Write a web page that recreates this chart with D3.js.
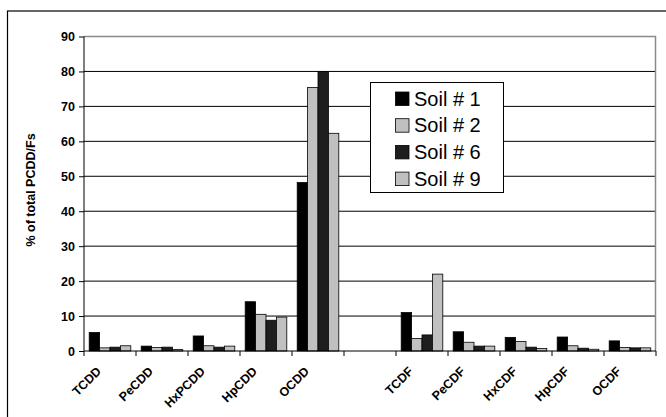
<!DOCTYPE html>
<html>
<head>
<meta charset="utf-8">
<script src="https://cdn.jsdelivr.net/npm/d3@7"></script>
<style>
  body { margin: 0; background: #fff; }
  svg { display: block; font-family: "Liberation Sans", Arial, sans-serif; }
</style>
</head>
<body>
<div id="chart"></div>
<script>
// data
var categories = ["TCDD", "PeCDD", "HxPCDD", "HpCDD", "OCDD", "", "TCDF", "PeCDF", "HxCDF", "HpCDF", "OCDF"];
var seriesNames = ["Soil # 1", "Soil # 2", "Soil # 6", "Soil # 9"];
var soil1 = [5.3, 1.4, 4.3, 14.1, 48.2, null, 11.0, 5.5, 3.9, 4.0, 2.9];
var soil2 = [0.9, 1.0, 1.5, 10.5, 75.4, null, 3.6, 2.5, 2.7, 1.5, 1.0];
var soil6 = [1.1, 1.1, 1.1, 8.8, 80.0, null, 4.6, 1.4, 1.1, 0.8, 0.9];
var soil9 = [1.5, 0.4, 1.4, 9.7, 62.3, null, 22.0, 1.4, 0.7, 0.5, 0.9];
var yTicks = [0, 10, 20, 30, 40, 50, 60, 70, 80, 90];

var seriesValues = [soil1, soil2, soil6, soil9];
var colors = ["#000000", "#c0c0c0", "#1e1e1e", "#c0c0c0"];

// #########################################################
// canvas
// #########################################################
var W = 666, H = 417;

var svg = d3.select("#chart")
  .append("svg")
    .attr("width", W)
    .attr("height", H);

// outer frame (runs off the right and bottom edges)
svg.append("rect")
    .attr("x", 7.5).attr("y", 11)
    .attr("width", W + 10).attr("height", H + 10)
    .attr("fill", "none").attr("stroke", "#000").attr("stroke-width", 1.2);

// category keys must be unique for the band scale
var keys = categories.map((c, i) => i);

var x = d3.scaleBand()
    .domain(keys)
    .range([84, 656])
    .padding(0);

var xSub = d3.scaleBand()
    .domain(d3.range(seriesNames.length))
    .range([0, x.bandwidth()])
    .paddingInner(0)
    .paddingOuter(0.5);

var y = d3.scaleLinear()
    .domain([0, 90])
    .range([351, 36.5]);

// gridlines
svg.append("g")
  .selectAll("line")
  .data(yTicks.filter(d => d > 0 && d < 90))
  .enter().append("line")
    .attr("x1", 84).attr("x2", 656)
    .attr("y1", d => y(d)).attr("y2", d => y(d))
    .attr("stroke", "#000").attr("stroke-width", 1);

// plot area border, top and right (gray)
svg.append("path")
    .attr("d", "M84," + y(90) + "H655.5V" + y(0))
    .attr("fill", "none").attr("stroke", "#8a8a8a").attr("stroke-width", 1.5);

// bars
var groups = svg.append("g")
  .selectAll("g")
  .data(keys)
  .enter().append("g")
    .attr("transform", d => "translate(" + x(d) + ",0)");

groups.selectAll("rect")
  .data(k => seriesValues.map((s, i) => ({i: i, v: s[k]})).filter(d => d.v != null))
  .enter().append("rect")
    .attr("x", d => xSub(d.i))
    .attr("width", xSub.bandwidth())
    .attr("y", d => y(d.v))
    .attr("height", d => y(0) - y(d.v))
    .attr("fill", d => colors[d.i])
    .attr("stroke", "#000")
    .attr("stroke-width", 0.8);

// y axis
var yAxis = d3.axisLeft(y).tickValues(yTicks).tickSize(5).tickPadding(4);
var gy = svg.append("g")
    .attr("transform", "translate(84,0)")
    .call(yAxis);
gy.select(".domain").attr("stroke", "#000").attr("d", "M0," + y(90) + "V" + y(0));
gy.selectAll(".tick line").attr("stroke", "#000");
gy.selectAll("text")
    .attr("font-size", 12.5).attr("font-weight", "bold")
    .attr("font-family", "Liberation Sans, Arial, sans-serif")
    .attr("fill", "#000");

// x axis: ticks on the category boundaries
var boundaries = keys.map(k => x(k)).concat([656]);
svg.append("line")
    .attr("x1", 84).attr("x2", 656)
    .attr("y1", y(0)).attr("y2", y(0))
    .attr("stroke", "#000").attr("stroke-width", 1.2);
svg.append("g")
  .selectAll("line")
  .data(boundaries)
  .enter().append("line")
    .attr("x1", d => d).attr("x2", d => d)
    .attr("y1", y(0)).attr("y2", y(0) + 5)
    .attr("stroke", "#000");

// category labels, rotated 45 degrees
var labels = svg.append("g")
  .selectAll("g")
  .data(keys.filter(k => categories[k] !== ""))
  .enter().append("g")
    .attr("transform", k => "translate(" + (x(k) + x.bandwidth() / 2 - 8) + "," + (y(0) + 21) + ")");
labels.append("text")
    .attr("transform", "rotate(-45)")
    .attr("text-anchor", "end")
    .attr("font-size", 12.5)
    .attr("font-weight", "bold")
    .text(k => categories[k]);

// y title
svg.append("text")
    .attr("transform", "translate(35,190) rotate(-90)")
    .attr("text-anchor", "middle")
    .attr("font-size", 12.5)
    .attr("font-weight", "bold")
    .text("% of total PCDD/Fs");

// legend
var legend = svg.append("g");
legend.append("rect")
    .attr("x", 370.5).attr("y", 82.5)
    .attr("width", 133).attr("height", 110)
    .attr("fill", "#fff").attr("stroke", "#000").attr("stroke-width", 1);

var rows = legend.selectAll("g.row")
  .data(seriesNames)
  .enter().append("g")
    .attr("class", "row")
    .attr("transform", (d, i) => "translate(0," + (98.5 + i * 26.7) + ")");
rows.append("rect")
    .attr("x", 395.5).attr("y", -6.5)
    .attr("width", 13.5).attr("height", 13.5)
    .attr("fill", (d, i) => colors[i])
    .attr("stroke", "#000").attr("stroke-width", 0.8);
rows.append("text")
    .attr("x", 414)
    .attr("dy", "0.36em")
    .attr("font-size", 20)
    .text(d => d);
</script>
</body>
</html>
